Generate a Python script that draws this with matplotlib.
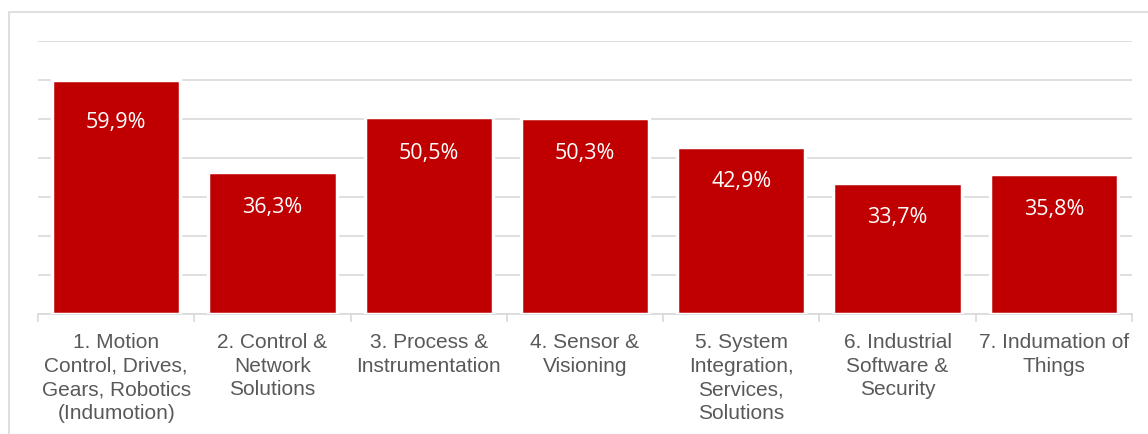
import numpy as np
import matplotlib
matplotlib.use('Agg')
import matplotlib.pyplot as plt
from matplotlib.patches import Rectangle

categories = ['1. Motion\nControl, Drives,\nGears, Robotics\n(Indumotion)',
              '2. Control &\nNetwork\nSolutions',
              '3. Process &\nInstrumentation',
              '4. Sensor &\nVisioning',
              '5. System\nIntegration,\nServices,\nSolutions',
              '6. Industrial\nSoftware &\nSecurity',
              '7. Indumation of\nThings']
values = [59.9, 36.3, 50.5, 50.3, 42.9, 33.7, 35.8]
value_labels = ['59,9%', '36,3%', '50,5%', '50,3%', '42,9%', '33,7%', '35,8%']

RED = '#c00000'; GRID = '#d9d9d9'; TXT = '#595959'

fig = plt.figure(figsize=(11.48, 4.35), dpi=100)
# chart frame (light grey border, cropped at right/bottom)
fig.patches.append(Rectangle((9 / 1148, -0.1), 1.2, 1 - 13 / 435 + 0.1,
                             transform=fig.transFigure, fill=False,
                             edgecolor=GRID, lw=1.2))

ax = fig.add_axes([38 / 1148, 1 - 315 / 435, (1132 - 38) / 1148, (315 - 42) / 435])
x = np.arange(len(values))
ax.bar(x, values, width=0.82, color=RED, edgecolor='white', lw=2.5, zorder=3)

# label offsets below bar top (px); the first label sits a bit lower in the original
offsets = [-41, -34, -35, -35, -34, -34, -34]
for xi, v, lab, off in zip(x, values, value_labels, offsets):
    ax.annotate(lab, (xi, v), xytext=(0, off), textcoords='offset pixels',
                ha='center', va='center', color='white', fontsize=15.5,
                family='Open Sans', zorder=4)

ax.set_xlim(-0.5, len(values) - 0.5)
ax.set_ylim(0, 70)
ax.set_yticks(np.arange(0, 71, 10))
ax.yaxis.grid(True, color=GRID, lw=1.2, zorder=0)
ax.tick_params(axis='y', length=0, labelleft=False)

ax.set_xticks(x)
ax.set_xticklabels(categories, fontsize=15, color=TXT, family='Liberation Sans',
                   linespacing=1.3)
ax.set_xticks(np.arange(-0.5, len(values)), minor=True)
ax.tick_params(axis='x', which='major', length=0, pad=13)
ax.tick_params(axis='x', which='minor', length=6, color=GRID, width=1.2)

for s in ('top', 'right', 'left'):
    ax.spines[s].set_visible(False)
ax.spines['bottom'].set_color(GRID)
ax.spines['bottom'].set_linewidth(1.2)

fig.savefig('out.png', dpi=100)
